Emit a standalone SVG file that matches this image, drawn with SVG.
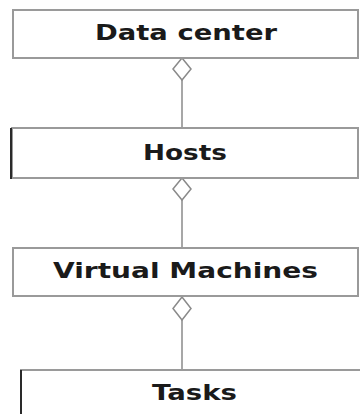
<svg xmlns="http://www.w3.org/2000/svg" width="360" height="414" viewBox="0 0 360 414">
<style>
.box{fill:#fff;stroke:#9a9a9a;stroke-width:2}
.edge{stroke:#2a2a2a;stroke-width:2}
.lbl{font-family:"DejaVu Sans","Verdana",sans-serif;font-weight:bold;font-size:22px;fill:#1a1a1a}
.conn{stroke:#8a8a8a;stroke-width:1.5;fill:none}
.dia{fill:#fff;stroke:#8a8a8a;stroke-width:1.5}
</style>
<rect width="360" height="414" fill="#fff"/>
<g id="connectors">
<line class="conn" x1="182" y1="80" x2="182" y2="128"/>
<polygon class="dia" points="182,58 191,69 182,80 173,69"/>
<line class="conn" x1="182" y1="200" x2="182" y2="248"/>
<polygon class="dia" points="182,178 191,189 182,200 173,189"/>
<line class="conn" x1="182" y1="320" x2="182" y2="369"/>
<polygon class="dia" points="182,297 191,308.5 182,320 173,308.5"/>
</g>
<g id="datacenter">
<rect class="box" x="13" y="10" width="345" height="48"/>
<text class="lbl" x="95" y="40" textLength="182" lengthAdjust="spacingAndGlyphs">Data center</text>
</g>
<g id="hosts">
<rect class="box" x="12" y="128" width="346" height="50"/>
<line class="edge" x1="11" y1="128" x2="11" y2="179"/>
<text class="lbl" x="143" y="160" textLength="84" lengthAdjust="spacingAndGlyphs">Hosts</text>
</g>
<g id="vms">
<rect class="box" x="13" y="248" width="345" height="48"/>
<text class="lbl" x="53" y="278" textLength="265" lengthAdjust="spacingAndGlyphs">Virtual Machines</text>
</g>
<g id="tasks">
<rect class="box" x="21" y="370" width="345" height="60"/>
<line class="edge" x1="21" y1="370" x2="21" y2="414"/>
<text class="lbl" x="152" y="400" textLength="85" lengthAdjust="spacingAndGlyphs">Tasks</text>
</g>
</svg>
